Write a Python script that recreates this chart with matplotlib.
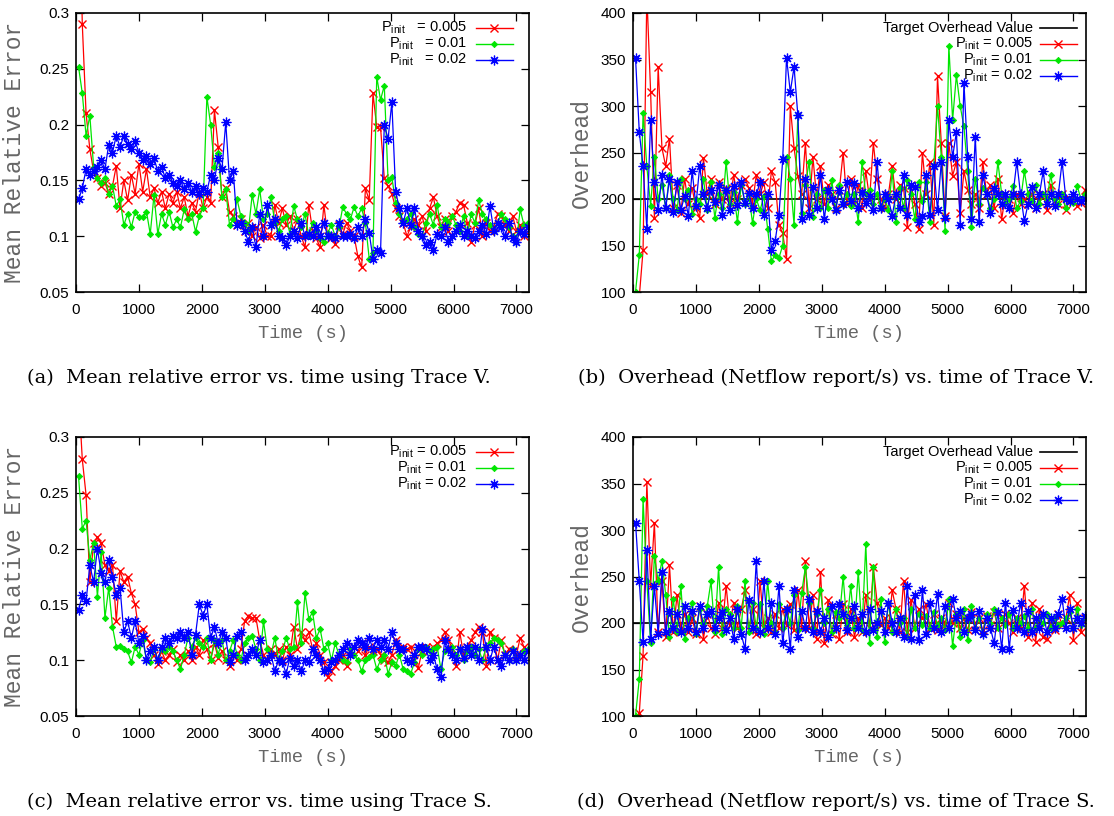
import numpy as np
import matplotlib
matplotlib.use("Agg")
import matplotlib.pyplot as plt
from matplotlib.ticker import FuncFormatter, MultipleLocator

# ---------------- data ----------------
time_s = np.arange(40, 7200, 60)  # sample times (s)

legend_labels = ["0.005", "0.01", "0.02"]
target_overhead = 200

# (a) Mean relative error, Trace V
mre_v_005 = [0.45, 0.29, 0.21, 0.178, 0.158, 0.152, 0.145, 0.148, 0.138, 0.145,
             0.163, 0.125, 0.15, 0.132, 0.155, 0.138, 0.165, 0.14, 0.16, 0.135,
             0.143, 0.13, 0.14, 0.125, 0.138, 0.13, 0.14, 0.125, 0.135, 0.118,
             0.13, 0.122, 0.14, 0.125, 0.135, 0.13, 0.213, 0.18, 0.135, 0.143,
             0.122, 0.118, 0.11, 0.115, 0.105, 0.112, 0.1, 0.108, 0.098, 0.11,
             0.1, 0.1, 0.128, 0.112, 0.125, 0.11, 0.118, 0.105, 0.115, 0.1,
             0.09, 0.128, 0.105, 0.098, 0.09, 0.128, 0.1, 0.098, 0.093, 0.11,
             0.102, 0.112, 0.105, 0.1, 0.082, 0.072, 0.143, 0.132, 0.228, 0.198,
             0.198, 0.152, 0.145, 0.138, 0.125, 0.118, 0.112, 0.1, 0.108, 0.115,
             0.11, 0.118, 0.105, 0.125, 0.135, 0.118, 0.108, 0.115, 0.105, 0.118,
             0.122, 0.13, 0.128, 0.112, 0.095, 0.11, 0.125, 0.1, 0.112, 0.105,
             0.108, 0.12, 0.118, 0.11, 0.105, 0.118, 0.105, 0.11, 0.1, 0.108]
mre_v_01 = [0.252, 0.228, 0.19, 0.208, 0.162, 0.152, 0.148, 0.152, 0.138, 0.145,
            0.127, 0.133, 0.11, 0.12, 0.108, 0.122, 0.117, 0.117, 0.122, 0.102,
            0.137, 0.102, 0.12, 0.11, 0.122, 0.108, 0.115, 0.108, 0.124, 0.115,
            0.12, 0.104, 0.118, 0.125, 0.225, 0.2, 0.162, 0.175, 0.135, 0.142,
            0.11, 0.115, 0.133, 0.118, 0.112, 0.105, 0.137, 0.12, 0.142, 0.115,
            0.12, 0.135, 0.112, 0.105, 0.115, 0.118, 0.102, 0.127, 0.115, 0.108,
            0.12, 0.1, 0.112, 0.105, 0.098, 0.095, 0.103, 0.11, 0.1, 0.108,
            0.126, 0.12, 0.115, 0.126, 0.118, 0.125, 0.112, 0.08, 0.085, 0.243,
            0.222, 0.235, 0.15, 0.153, 0.13, 0.12, 0.113, 0.115, 0.12, 0.108,
            0.102, 0.1, 0.112, 0.12, 0.11, 0.128, 0.108, 0.115, 0.112, 0.118,
            0.11, 0.105, 0.118, 0.1, 0.12, 0.112, 0.132, 0.12, 0.115, 0.11,
            0.105, 0.112, 0.12, 0.115, 0.108, 0.1, 0.095, 0.124, 0.11, 0.112]
mre_v_02 = [0.133, 0.143, 0.16, 0.155, 0.158, 0.162, 0.168, 0.16, 0.182, 0.175,
            0.19, 0.18, 0.19, 0.183, 0.178, 0.185, 0.175, 0.168, 0.172, 0.165,
            0.17, 0.158, 0.162, 0.152, 0.155, 0.148, 0.145, 0.15, 0.142, 0.148,
            0.14, 0.145, 0.138, 0.143, 0.14, 0.155, 0.15, 0.17, 0.16, 0.202,
            0.15, 0.158, 0.11, 0.112, 0.105, 0.095, 0.108, 0.09, 0.12, 0.1,
            0.128, 0.11, 0.115, 0.1, 0.098, 0.092, 0.1, 0.105, 0.098, 0.112,
            0.1, 0.102, 0.1, 0.108, 0.1, 0.112, 0.1, 0.1, 0.098, 0.112,
            0.1, 0.1, 0.102, 0.098, 0.108, 0.1, 0.115, 0.103, 0.08, 0.088,
            0.085, 0.2, 0.187, 0.22, 0.14, 0.125, 0.112, 0.125, 0.11, 0.125,
            0.105, 0.1, 0.092, 0.095, 0.088, 0.102, 0.1, 0.108, 0.095, 0.1,
            0.105, 0.11, 0.1, 0.105, 0.1, 0.098, 0.105, 0.11, 0.102, 0.127,
            0.105, 0.112, 0.108, 0.1, 0.112, 0.098, 0.095, 0.105, 0.102, 0.108]

# (b) Overhead, Trace V
ovh_v_005 = [50, 95, 145, 420, 315, 180, 342, 255, 235, 265,
             190, 215, 185, 222, 195, 212, 190, 180, 244, 205,
             222, 195, 218, 200, 212, 196, 226, 200, 215, 222,
             212, 195, 226, 205, 218, 190, 230, 218, 172, 163,
             135, 300, 255, 225, 205, 260, 190, 245, 200, 235,
             195, 215, 205, 190, 210, 250, 195, 222, 195, 215,
             190, 230, 200, 260, 222, 200, 190, 205, 235, 200,
             215, 212, 170, 215, 195, 168, 250, 205, 240, 172,
             332, 260, 182, 260, 225, 240, 185, 230, 210, 195,
             205, 190, 240, 205, 215, 190, 222, 178, 205, 200,
             185, 205, 195, 200, 195, 205, 190, 198, 205, 188,
             215, 198, 195, 205, 188, 200, 198, 192, 196, 210]
ovh_v_01 = [100, 140, 292, 235, 193, 245, 200, 215, 190, 226,
            200, 188, 222, 200, 210, 184, 200, 195, 222, 188,
            218, 180, 205, 190, 240, 195, 208, 175, 215, 195,
            205, 174, 200, 188, 203, 168, 133, 140, 137, 150,
            245, 222, 172, 290, 185, 215, 240, 181, 205, 190,
            210, 190, 220, 188, 215, 195, 205, 192, 205, 175,
            240, 205, 210, 195, 205, 190, 200, 188, 230, 175,
            212, 190, 220, 205, 178, 218, 198, 218, 175, 235,
            300, 245, 166, 365, 285, 333, 300, 278, 230, 170,
            222, 195, 212, 205, 190, 200, 240, 205, 196, 200,
            214, 190, 198, 230, 205, 198, 215, 195, 205, 200,
            226, 200, 195, 205, 190, 200, 196, 214, 200, 205]
ovh_v_02 = [352, 272, 235, 168, 285, 218, 188, 226, 190, 222,
            186, 218, 188, 203, 182, 230, 193, 235, 205, 190,
            210, 197, 215, 183, 210, 188, 214, 194, 218, 196,
            206, 190, 205, 218, 183, 205, 145, 155, 183, 243,
            352, 315, 342, 290, 178, 222, 183, 213, 190, 226,
            178, 210, 200, 188, 210, 195, 218, 198, 217, 190,
            208, 196, 203, 188, 240, 190, 205, 200, 182, 205,
            190, 226, 183, 215, 213, 175, 182, 226, 183, 235,
            188, 240, 180, 285, 245, 272, 172, 325, 245, 178,
            267, 175, 226, 205, 185, 212, 205, 195, 205, 190,
            205, 240, 205, 176, 195, 213, 190, 205, 230, 195,
            205, 192, 205, 240, 200, 198, 205, 200, 198, 200]

# (c) Mean relative error, Trace S
mre_s_005 = [0.34, 0.28, 0.248, 0.17, 0.205, 0.21, 0.205, 0.185, 0.18, 0.185,
             0.135, 0.18, 0.17, 0.175, 0.16, 0.15, 0.125, 0.128, 0.12, 0.115,
             0.105, 0.097, 0.108, 0.1, 0.105, 0.11, 0.098, 0.105, 0.1, 0.108,
             0.1, 0.112, 0.105, 0.118, 0.11, 0.1, 0.115, 0.102, 0.108, 0.1,
             0.095, 0.105, 0.1, 0.11, 0.135, 0.14, 0.138, 0.138, 0.118, 0.105,
             0.1, 0.11, 0.105, 0.11, 0.1, 0.112, 0.105, 0.13, 0.11, 0.125,
             0.118, 0.125, 0.11, 0.115, 0.105, 0.098, 0.085, 0.09, 0.095, 0.1,
             0.105, 0.095, 0.108, 0.112, 0.108, 0.115, 0.105, 0.112, 0.108, 0.11,
             0.105, 0.1, 0.098, 0.105, 0.118, 0.11, 0.112, 0.11, 0.112, 0.1,
             0.093, 0.108, 0.112, 0.11, 0.112, 0.115, 0.118, 0.125, 0.118, 0.11,
             0.095, 0.125, 0.105, 0.112, 0.118, 0.125, 0.13, 0.125, 0.095, 0.125,
             0.12, 0.1, 0.118, 0.105, 0.11, 0.108, 0.105, 0.12, 0.112, 0.108]
mre_s_01 = [0.265, 0.218, 0.225, 0.19, 0.205, 0.157, 0.197, 0.138, 0.165, 0.13,
            0.112, 0.113, 0.11, 0.108, 0.098, 0.112, 0.105, 0.118, 0.1, 0.098,
            0.11, 0.1, 0.11, 0.108, 0.112, 0.108, 0.1, 0.092, 0.105, 0.12,
            0.112, 0.12, 0.115, 0.112, 0.12, 0.1, 0.118, 0.105, 0.118, 0.1,
            0.108, 0.118, 0.105, 0.1, 0.115, 0.12, 0.122, 0.11, 0.1, 0.135,
            0.11, 0.105, 0.12, 0.1, 0.108, 0.12, 0.11, 0.112, 0.152, 0.115,
            0.16, 0.137, 0.143, 0.12, 0.128, 0.11, 0.115, 0.1, 0.115, 0.105,
            0.1, 0.098, 0.11, 0.105, 0.1, 0.09, 0.1, 0.103, 0.105, 0.092,
            0.1, 0.105, 0.088, 0.098, 0.095, 0.105, 0.092, 0.09, 0.088, 0.098,
            0.11, 0.105, 0.112, 0.108, 0.11, 0.112, 0.092, 0.108, 0.11, 0.112,
            0.105, 0.11, 0.1, 0.108, 0.112, 0.105, 0.11, 0.1, 0.112, 0.115,
            0.12, 0.118, 0.115, 0.105, 0.1, 0.11, 0.1, 0.105, 0.108, 0.11]
mre_s_02 = [0.145, 0.158, 0.153, 0.185, 0.17, 0.2, 0.178, 0.17, 0.19, 0.175,
            0.158, 0.165, 0.125, 0.135, 0.12, 0.135, 0.115, 0.122, 0.1, 0.108,
            0.112, 0.1, 0.112, 0.12, 0.115, 0.122, 0.12, 0.125, 0.12, 0.125,
            0.105, 0.123, 0.15, 0.14, 0.15, 0.12, 0.13, 0.115, 0.125, 0.12,
            0.098, 0.105, 0.122, 0.125, 0.1, 0.105, 0.11, 0.105, 0.118, 0.098,
            0.1, 0.105, 0.09, 0.1, 0.098, 0.088, 0.102, 0.095, 0.1, 0.09,
            0.1, 0.098, 0.11, 0.105, 0.1, 0.09, 0.092, 0.098, 0.1, 0.105,
            0.11, 0.115, 0.105, 0.112, 0.118, 0.115, 0.112, 0.12, 0.11, 0.118,
            0.112, 0.118, 0.11, 0.125, 0.115, 0.11, 0.11, 0.1, 0.098, 0.105,
            0.112, 0.112, 0.11, 0.1, 0.105, 0.092, 0.085, 0.118, 0.11, 0.105,
            0.1, 0.11, 0.102, 0.112, 0.105, 0.112, 0.1, 0.128, 0.112, 0.1,
            0.112, 0.1, 0.095, 0.105, 0.1, 0.108, 0.1, 0.105, 0.1, 0.108]

# (d) Overhead, Trace S
ovh_s_005 = [60, 103, 165, 352, 240, 308, 190, 245, 185, 262,
             190, 230, 195, 210, 190, 205, 188, 218, 183, 210,
             195, 188, 222, 195, 240, 198, 222, 195, 215, 235,
             192, 215, 188, 245, 195, 205, 190, 210, 195, 215,
             198, 220, 192, 235, 195, 267, 195, 230, 183, 255,
             178, 225, 188, 210, 183, 220, 190, 215, 185, 205,
             190, 230, 195, 260, 222, 198, 205, 195, 235, 215,
             190, 245, 190, 225, 195, 215, 205, 220, 195, 210,
             192, 205, 198, 222, 200, 210, 195, 205, 192, 212,
             198, 205, 192, 208, 198, 212, 195, 205, 210, 200,
             190, 205, 195, 240, 185, 222, 180, 215, 185, 183,
             200, 192, 210, 198, 205, 230, 182, 222, 190, 205]
ovh_s_01 = [100, 140, 333, 245, 178, 272, 245, 267, 230, 185,
            226, 190, 240, 183, 205, 222, 188, 215, 200, 218,
            245, 190, 260, 188, 215, 210, 195, 218, 195, 245,
            190, 222, 195, 220, 188, 245, 200, 190, 220, 195,
            215, 200, 230, 192, 232, 260, 222, 195, 210, 235,
            200, 215, 190, 212, 205, 250, 198, 240, 195, 255,
            192, 285, 178, 260, 185, 226, 180, 222, 190, 215,
            200, 205, 185, 215, 195, 210, 198, 208, 195, 212,
            198, 205, 192, 226, 175, 210, 185, 215, 182, 218,
            195, 205, 188, 210, 200, 215, 195, 205, 198, 210,
            195, 205, 200, 208, 195, 215, 195, 205, 200, 210,
            195, 205, 198, 200, 205, 212, 195, 215, 198, 205]
ovh_s_02 = [308, 245, 180, 278, 183, 240, 188, 255, 190, 213,
            195, 210, 190, 218, 195, 213, 190, 218, 195, 210,
            213, 195, 205, 212, 193, 205, 183, 215, 188, 172,
            225, 195, 267, 190, 245, 195, 222, 188, 240, 178,
            215, 172, 235, 185, 213, 195, 226, 190, 213, 190,
            205, 185, 218, 195, 220, 210, 192, 205, 218, 195,
            210, 190, 215, 193, 200, 213, 190, 222, 200, 190,
            205, 185, 240, 183, 230, 182, 235, 188, 222, 195,
            231, 190, 218, 195, 226, 205, 213, 190, 205, 210,
            192, 213, 188, 205, 195, 178, 212, 172, 222, 172,
            214, 195, 222, 190, 213, 190, 205, 195, 210, 190,
            205, 195, 210, 226, 195, 215, 195, 205, 200, 208]

captions = ["(a)  Mean relative error vs. time using Trace V.",
            "(b)  Overhead (Netflow report/s) vs. time of Trace V.",
            "(c)  Mean relative error vs. time using Trace S.",
            "(d)  Overhead (Netflow report/s) vs. time of Trace S."]

# ---------------- style ----------------
plt.rcParams["font.family"] = ["Liberation Sans", "DejaVu Sans"]
plt.rcParams["mathtext.fontset"] = "custom"
plt.rcParams["mathtext.rm"] = "Liberation Sans"
plt.rcParams["mathtext.it"] = "Liberation Sans:italic"

RED, GREEN, BLUE = "#ff0000", "#00e600", "#0000ff"
styles = [dict(color=RED, marker="x", ms=6, mew=1.0),
          dict(color=GREEN, marker="D", ms=3.2, mew=0.6),
          dict(color=BLUE, marker=(8, 2, 0), ms=7, mew=0.9)]

W, H = 1114, 816
fig = plt.figure(figsize=(W / 100, H / 100), dpi=100)


def px_axes(left, top, right, bottom):
    return fig.add_axes([left / W, 1 - bottom / H, (right - left) / W, (bottom - top) / H])


def setup(ax, ylim, ystep, ylabel, ylabel_x):
    ax.set_xlim(0, 7200)
    ax.set_ylim(*ylim)
    ax.xaxis.set_major_locator(MultipleLocator(1000))
    ax.yaxis.set_major_locator(MultipleLocator(ystep))
    ax.yaxis.set_major_formatter(FuncFormatter(lambda v, p: "%g" % round(v, 4)))
    ax.tick_params(direction="in", top=True, right=True, length=6, width=0.9,
                   labelsize=11, pad=5)
    ax.tick_params(axis="x", pad=8)
    for s in ax.spines.values():
        s.set_linewidth(1.2)
    ax.set_xlabel("Time (s)", family="Liberation Mono", fontsize=13.5, color="#666666")
    ax.xaxis.set_label_coords(0.5, -41 / 279)
    ax.xaxis.label.set_va("center")
    ax.set_ylabel(ylabel, family="Liberation Mono", fontsize=16.5, color="#666666")
    ax.yaxis.set_label_coords(ylabel_x, 0.5)
    ax.yaxis.label.set_va("center")
    ax.yaxis.label.set_ha("center")


def legend(ax, labels, with_target, text_x, line_x0, line_x1):
    rows = [0.054, 0.111, 0.168, 0.226]
    k = 0
    if with_target:
        y = 1 - rows[0]
        ax.text(text_x, y, "Target Overhead Value", transform=ax.transAxes,
                ha="right", va="center", fontsize=10.5)
        ax.plot([line_x0, line_x1], [y, y], transform=ax.transAxes, color="black",
                lw=1.2, clip_on=False)
        k = 1
    for i, lab in enumerate(labels):
        y = 1 - rows[k + i]
        ax.text(text_x, y, lab, transform=ax.transAxes, ha="right", va="center",
                fontsize=10.5)
        st = styles[i]
        ax.plot([line_x0, line_x1], [y, y], transform=ax.transAxes, color=st["color"],
                lw=1.0, clip_on=False)
        ax.plot([(line_x0 + line_x1) / 2], [y], transform=ax.transAxes, ls="none",
                clip_on=False, **st)


def draw(ax, series):
    for st, vals in zip(styles, series):
        ax.plot(time_s[:len(vals)], vals, lw=0.9, **st)


labels_a = ["P$_{\\mathrm{init}}$   = " + s for s in legend_labels]
labels_c = ["P$_{\\mathrm{init}}$ = " + s for s in legend_labels]

# (a)
ax_a = px_axes(76, 13, 529, 292)
setup(ax_a, (0.05, 0.3), 0.05, "Mean Relative Error", -0.135)
draw(ax_a, [mre_v_005, mre_v_01, mre_v_02])
legend(ax_a, labels_a, False, 0.863, 0.883, 0.964)

# (b)
ax_b = px_axes(633, 13, 1086, 292)
setup(ax_b, (100, 400), 50, "Overhead", -0.115)
ax_b.axhline(target_overhead, color="black", lw=1.2)
draw(ax_b, [ovh_v_005, ovh_v_01, ovh_v_02])
legend(ax_b, labels_c, True, 0.883, 0.898, 0.980)

# (c)
ax_c = px_axes(76, 437, 529, 716)
setup(ax_c, (0.05, 0.3), 0.05, "Mean Relative Error", -0.135)
draw(ax_c, [mre_s_005, mre_s_01, mre_s_02])
legend(ax_c, labels_c, False, 0.863, 0.883, 0.964)

# (d)
ax_d = px_axes(633, 437, 1086, 716)
setup(ax_d, (100, 400), 50, "Overhead", -0.115)
ax_d.axhline(target_overhead, color="black", lw=1.2)
draw(ax_d, [ovh_s_005, ovh_s_01, ovh_s_02])
legend(ax_d, labels_c, True, 0.883, 0.898, 0.980)

# captions
cap_pos = [(259, 378), (836, 378), (259, 802), (836, 802)]
for (cx, cy), cap in zip(cap_pos, captions):
    fig.text(cx / W, 1 - cy / H, cap, ha="center", va="center",
             family="DejaVu Serif", fontsize=14)

fig.savefig("out.png", dpi=100)
